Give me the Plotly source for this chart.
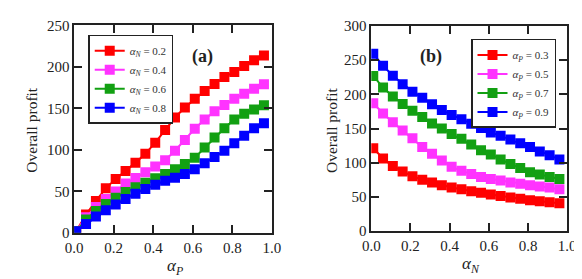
import plotly.graph_objects as go

# ---- data ----
x_vals = [0.01 + 0.05 * i for i in range(20)]

left_labels = ["0.2", "0.4", "0.6", "0.8"]
left_red = [2, 22, 38.5, 53.6, 65, 74.4, 84.6, 95.2, 108.7, 123.9, 139, 151, 161.6, 171, 179.4, 187.7, 194, 201, 208, 213.7]
left_pink = [2, 18.9, 31, 40.8, 49.8, 59.3, 66, 72.9, 80, 87.6, 98.9, 111.8, 125.4, 136.7, 146.5, 154, 161.6, 167.7, 173.7, 179]
left_green = [2, 15.9, 26.4, 34.7, 42.3, 49.1, 54.8, 60.4, 65.7, 71, 76.7, 83.1, 90.6, 102.7, 114.8, 126.1, 136.7, 143.5, 148.8, 153.7]
left_blue = [2, 10.6, 19.6, 27.2, 34, 40.8, 47.2, 52.9, 57.8, 62.7, 66.5, 71, 76.7, 83.8, 91.4, 98.9, 108, 117, 126.1, 132.2]

right_labels = ["0.3", "0.5", "0.7", "0.9"]
right_red = [121, 106, 95, 87, 80, 75, 71, 67, 63.5, 61, 58, 56, 53.5, 51, 49, 47, 45, 43.5, 42, 40.5]
right_pink = [187, 172, 159, 147, 135.6, 123, 113, 103, 94, 88, 83.5, 79, 76, 74, 71, 69, 67, 65, 63.5, 61]
right_green = [227, 210, 197, 186, 176, 167, 157.5, 150, 142, 135, 126.5, 118, 112, 104.5, 98, 92, 86, 82.6, 79, 76]
right_blue = [259.4, 242, 227.4, 215, 204, 195, 185.4, 177, 169.9, 163.5, 157, 150.7, 144.3, 139.3, 133.8, 128.3, 122.8, 116.4, 111, 104.5]

x_ticks = [0.0, 0.2, 0.4, 0.6, 0.8, 1.0]
left_y_ticks = [0, 50, 100, 150, 200, 250]
right_y_ticks = [0, 50, 100, 150, 200, 250, 300]

colors = ["#ff0000", "#ff33ff", "#12a012", "#0000ff"]
FONT = "Liberation Serif"

W, H = 582, 279

def px(x):
    return x / W

def py(y):
    return 1 - y / H

fig = go.Figure()

for ys, lab, c in zip([left_red, left_pink, left_green, left_blue], left_labels, colors):
    fig.add_trace(go.Scatter(
        x=x_vals, y=ys, mode="lines+markers",
        line=dict(color=c, width=2),
        marker=dict(symbol="square", size=10, color=c),
        name=f"<i>α</i><sub><i>N</i></sub> = {lab}",
        xaxis="x", yaxis="y", legend="legend"))

for ys, lab, c in zip([right_red, right_pink, right_green, right_blue], right_labels, colors):
    fig.add_trace(go.Scatter(
        x=x_vals, y=ys, mode="lines+markers",
        line=dict(color=c, width=2),
        marker=dict(symbol="square", size=10, color=c),
        name=f"<i>α</i><sub><i>P</i></sub> = {lab}",
        xaxis="x2", yaxis="y2", legend="legend2"))

def ax_common():
    return dict(
        showgrid=False, zeroline=False, showline=True, linecolor="#222",
        linewidth=1.5, mirror="ticks", ticks="inside", ticklen=8,
        tickwidth=1.5, tickcolor="#222",
        tickfont=dict(family=FONT, size=15, color="#222"),
    )

fig.update_layout(
    width=W, height=H,
    font=dict(family=FONT, size=15, color="#222"),
    margin=dict(l=0, r=0, t=0, b=0),
    paper_bgcolor="white", plot_bgcolor="white",
    xaxis=dict(domain=[px(59), px(263)], range=[0, 1], tickvals=x_ticks,
               ticktext=[f"{v:.1f}" for v in x_ticks], anchor="y", **ax_common()),
    yaxis=dict(domain=[py(230), py(10)], range=[0, 250], tickvals=left_y_ticks,
               anchor="x", **ax_common()),
    xaxis2=dict(domain=[px(365.6), px(567.8)], range=[0, 1], tickvals=x_ticks,
                ticktext=[f"{v:.1f}" for v in x_ticks], anchor="y2", **ax_common()),
    yaxis2=dict(domain=[py(228), py(10.7)], range=[0, 300], tickvals=right_y_ticks,
                anchor="x2", **ax_common()),
    legend=dict(x=px(73.5), y=py(20), xanchor="left", yanchor="top",
                bgcolor="white", bordercolor="#222", borderwidth=1.5,
                font=dict(family=FONT, size=11, color="#333"), itemwidth=30),
    legend2=dict(x=px(468.5), y=py(24.3), xanchor="left", yanchor="top",
                 bgcolor="white", bordercolor="#222", borderwidth=1.5,
                 font=dict(family=FONT, size=11, color="#333"), itemwidth=30),
    showlegend=True,
)

ann = [
    dict(text="<b>(a)</b>", x=px(191.7), y=py(43), font=dict(size=18)),
    dict(text="<b>(b)</b>", x=px(426.7), y=py(42.7), font=dict(size=18)),
    dict(text="Overall profit", x=px(14), y=py(121), textangle=-90, font=dict(size=15.5)),
    dict(text="Overall profit", x=px(324), y=py(121), textangle=-90, font=dict(size=15.5)),
    dict(text="<i>α</i><sub><i>P</i></sub>", x=px(163), y=py(266), font=dict(size=17)),
    dict(text="<i>α</i><sub><i>N</i></sub>", x=px(468), y=py(264), font=dict(size=17)),
]
for a in ann:
    a.update(xref="paper", yref="paper", showarrow=False, xanchor="center", yanchor="middle")
    a["font"].update(family=FONT, color="#222")
fig.update_layout(annotations=ann)

fig.write_html("out.html")
